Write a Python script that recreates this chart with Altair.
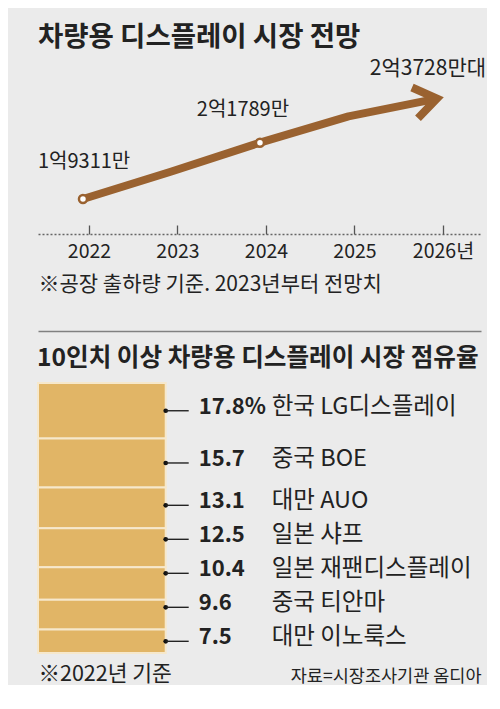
import altair as alt
import pandas as pd

# ---------------- data ----------------
years = [2022, 2023, 2024, 2025, 2026]
units = [19311, 20520, 21789, 22950, 23728]          # 만 대 (2023, 2025)
year_labels = ["2022", "2023", "2024", "2025", "2026년"]
marked_years = [2022, 2024]
point_text = ["1억9311만", "", "2억1789만", "", "2억3728만대"]

companies = ["한국 LG디스플레이", "중국 BOE", "대만 AUO", "일본 샤프",
             "일본 재팬디스플레이", "중국 티안마", "대만 이노룩스"]
shares = [17.8, 15.7, 13.1, 12.5, 10.4, 9.6, 7.5]
share_labels = ["17.8%", "15.7", "13.1", "12.5", "10.4", "9.6", "7.5"]

title1 = "차량용 디스플레이 시장 전망"
note1 = "※공장 출하량 기준. 2023년부터 전망치"
title2 = "10인치 이상 차량용 디스플레이 시장 점유율"
note2 = "※2022년 기준"
source = "자료=시장조사기관 옴디아"

# ---------------- style ----------------
BG = "#ebebeb"
BROWN = "#9a6230"
BAR = "#e1b566"
SEP = "#f6e8cc"
INK = "#222222"
KR = "Noto Sans CJK KR"

W = 443
H_BOT = 270
LABEL_GAP_PX = 34                      # minimum spacing between share labels
GAP = LABEL_GAP_PX * sum(shares) / H_BOT

line_df = pd.DataFrame({"year": years, "units": units, "text": point_text})

label_expr = " : ".join(f"datum.value == {y} ? '{l}'" for y, l in zip(years, year_labels)) + " : ''"

xs_top = alt.Scale(domain=[2021.424, 2026.43], nice=False, zero=False)
ys_top = alt.Scale(domain=[17770, 25340], nice=False, zero=False)

main_axis = alt.Axis(
    orient="bottom", values=years, labelExpr=label_expr, grid=False, ticks=False,
    domain=True, domainDash=[2, 2], domainColor="#666666", domainWidth=1.5,
    labelFont=KR, labelFontSize=19.5, labelColor=INK, labelPadding=17,
    labelBaseline="middle", labelFlush=False, labelOverlap=False,
    title=note1, titleX=0, titleY=50, titleAlign="left", titleAnchor="start",
    titleBaseline="middle", titleFont=KR, titleFontSize=21,
    titleFontWeight="normal", titleColor=INK,
)
tick_axis = alt.Axis(
    orient="bottom", values=years, grid=False, domain=False, labels=False,
    ticks=True, tickSize=9, tickColor="#555555", tickWidth=1.3, offset=-9,
    title=None,
)
rule_axis = alt.Axis(
    orient="bottom", offset=97, grid=False, domain=True, domainColor="#808080",
    domainWidth=1.5, labels=False, ticks=False, title=None,
)

base_top = alt.Chart(line_df)

line = base_top.mark_line(color=BROWN, strokeWidth=8, strokeCap="butt",
                          strokeJoin="round", xOffset=-6).encode(
    x=alt.X("year:Q", scale=xs_top, axis=main_axis),
    y=alt.Y("units:Q", scale=ys_top, axis=None),
)

arrow = base_top.transform_filter(f"datum.year == {years[-1]}").mark_point(
    shape="M -2 -1.4 L 0 0 L -2 1.4", filled=False, stroke=BROWN, strokeWidth=8,
    strokeJoin="miter", strokeCap="butt", size=500, angle=349, opacity=1,
    xOffset=-6,
).encode(
    x=alt.X("year:Q", scale=xs_top, axis=rule_axis),
    y=alt.Y("units:Q", scale=ys_top, axis=None),
)

pts = base_top.transform_filter(
    alt.FieldOneOfPredicate(field="year", oneOf=marked_years)
).mark_point(shape="circle", filled=True, fill="white", stroke=BROWN,
             strokeWidth=2.5, size=64, opacity=1, xOffset=-6).encode(
    x=alt.X("year:Q", scale=xs_top, axis=tick_axis),
    y=alt.Y("units:Q", scale=ys_top, axis=None),
)

def point_label(year, align, dx, dy, size):
    return base_top.transform_filter(f"datum.year == {year}").mark_text(
        align=align, baseline="middle", dx=dx, dy=dy, font=KR,
        fontSize=size, color=INK,
    ).encode(
        x=alt.X("year:Q", scale=xs_top, axis=None),
        y=alt.Y("units:Q", scale=ys_top, axis=None),
        text="text:N",
    )

lab1 = point_label(years[0], "left", -51, -37, 20)
lab2 = point_label(years[2], "center", -23, -33, 20)
lab3 = point_label(years[4], "center", -15, -30, 21)

top = alt.layer(line, arrow, pts, lab1, lab2, lab3).resolve_axis(
    x="independent"
).properties(
    width=W, height=172,
    title=alt.TitleParams(title1, anchor="start", font=KR, fontSize=27.5,
                          fontWeight="bold", color=INK, offset=6),
)

# ---------------- bottom chart ----------------
share_df = pd.DataFrame({"rank": list(range(len(companies))), "company": companies,
                         "share": shares, "label": share_labels})

# stack the shares, then push labels apart (bottom-up) so they keep a minimum gap
base_bot = alt.Chart(share_df).transform_calculate(
    grp="'share'"
).transform_stack(
    stack="share", groupby=[], as_=["y0", "y1"],
    sort=[alt.SortField("rank", order="ascending")],
).transform_calculate(
    t=f"(datum.y0 + datum.y1) / 2 - {GAP} * datum.rank"
).transform_window(
    m="min(t)", frame=[0, None], sort=[alt.SortField("rank", order="ascending")]
).transform_calculate(
    pos=f"datum.m + {GAP} * datum.rank"
)

xs_bot = alt.Scale(type="band", paddingInner=0.19, paddingOuter=1, align=0)
ys_bot = alt.Scale(domain=[0, sum(shares)], reverse=True, nice=False, zero=False)

left_axis = alt.Axis(
    orient="left", domain=False, ticks=False, labels=False, grid=False,
    title=note2, titleAngle=0, titleX=0, titleY=291, titleAlign="left",
    titleBaseline="middle", titleFont=KR, titleFontSize=21.5,
    titleFontWeight="normal", titleColor=INK,
)
right_axis = alt.Axis(
    orient="right", domain=False, ticks=False, labels=False, grid=False,
    title=source, titleAngle=0, titleX=0, titleY=293, titleAlign="right",
    titleBaseline="middle", titleFont=KR, titleFontSize=17.5,
    titleFontWeight="normal", titleColor=INK,
)

bars = base_bot.mark_bar(color=BAR, stroke=SEP, strokeWidth=2).encode(
    x=alt.X("grp:N", scale=xs_bot, axis=None),
    y=alt.Y("y0:Q", scale=ys_bot, axis=left_axis),
    y2="y1:Q",
)

dots = base_bot.mark_point(shape="circle", filled=True, color="#111111",
                           size=22, opacity=1).encode(
    x=alt.X("grp:N", scale=xs_bot, bandPosition=1, axis=None),
    y=alt.Y("pos:Q", scale=ys_bot, axis=None),
)

leaders = base_bot.mark_point(shape="M 0 0 L 2 0", filled=False, stroke="#222222",
                              strokeWidth=1.4, size=529, opacity=1).encode(
    x=alt.X("grp:N", scale=xs_bot, bandPosition=1, axis=None),
    y=alt.Y("pos:Q", scale=ys_bot, axis=None),
)

vals = base_bot.mark_text(align="left", baseline="middle", dx=33, dy=-4, font=KR,
                          fontSize=22, fontWeight="bold", color=INK).encode(
    x=alt.X("grp:N", scale=xs_bot, bandPosition=1, axis=None),
    y=alt.Y("pos:Q", scale=ys_bot, axis=None),
    text="label:N",
)

names = base_bot.mark_text(align="left", baseline="middle", dx=106, dy=-4, font=KR,
                           fontSize=23.5, color=INK).encode(
    x=alt.X("grp:N", scale=xs_bot, bandPosition=1, axis=None),
    y=alt.Y("pos:Q", scale=ys_bot, axis=right_axis),
    text="company:N",
)

bottom = alt.layer(bars, dots, leaders, vals, names).resolve_axis(
    y="independent"
).properties(
    width=W, height=H_BOT,
    title=alt.TitleParams(title2, anchor="start", font=KR, fontSize=24.6,
                          fontWeight="bold", color=INK, offset=10),
)

chart = alt.vconcat(top, bottom, spacing=15).properties(
    padding={"left": 29, "top": 16, "right": 0, "bottom": 0}
).configure(background=BG).configure_view(stroke=None)

chart.save("out.html", embed_options={"renderer": "svg", "actions": False})
